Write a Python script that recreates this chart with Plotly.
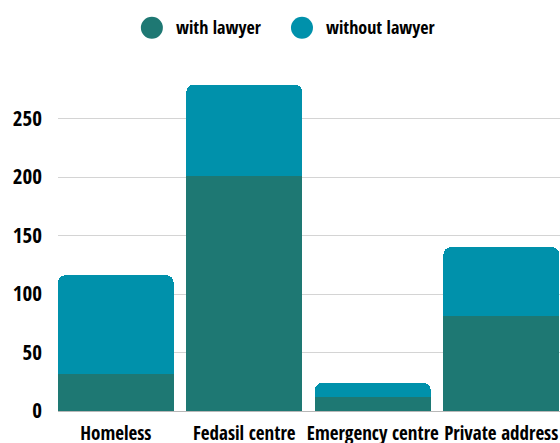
import plotly.graph_objects as go

# Where people were living, split by legal representation
categories = ["Homeless", "Fedasil centre", "Emergency centre", "Private address"]
with_lawyer = [32, 201, 12, 81]
without_lawyer = [84, 78, 12, 59]
y_ticks = [0, 50, 100, 150, 200, 250]

series_names = ["with lawyer", "without lawyer"]
series_colors = ["#1e7873", "#0091ab"]

FONT = "Open Sans Condensed, Roboto Condensed, sans-serif"

fig = go.Figure()
for name, vals, col in zip(series_names, [with_lawyer, without_lawyer], series_colors):
    fig.add_trace(go.Bar(
        x=list(range(len(categories))),
        y=vals,
        name=name,
        marker=dict(color=col, line=dict(width=0)),
        showlegend=False,
        hoverinfo="y+name",
    ))

# Custom legend: round swatches with labels, centred above the plot
legend_items = [(0.187, 0.232), (0.486, 0.530)]  # (swatch x, label x) in paper units
for (sx, tx), name, col in zip(legend_items, series_names, series_colors):
    fig.add_shape(type="circle", xref="paper", yref="paper",
                  xsizemode="pixel", ysizemode="pixel",
                  xanchor=sx, yanchor=1.092,
                  x0=-11, x1=11, y0=-11, y1=11,
                  fillcolor=col, line=dict(width=0))
    fig.add_annotation(x=tx, y=1.094, xref="paper", yref="paper",
                       text=name, showarrow=False, xanchor="left", yanchor="middle",
                       font=dict(family=FONT, size=18, color="#000", weight="bold"))

fig.update_layout(
    width=560, height=443,
    margin=dict(l=58, r=0, t=60, b=32),
    paper_bgcolor="white", plot_bgcolor="white",
    barmode="stack", bargap=0.1, barcornerradius=7,
    font=dict(family=FONT, size=20, color="#000", weight="bold"),
    showlegend=False,
)
fig.update_xaxes(
    range=[-0.45, 3.457], automargin=False,
    tickmode="array", tickvals=list(range(len(categories))), ticktext=categories,
    tickangle=0, showgrid=False, showline=False, ticks="", ticklabelstandoff=9,
    ticklabeloverflow="allow",
    tickfont=dict(family=FONT, size=19, color="#000", weight="bold"),
)
fig.update_yaxes(
    range=[0, 300], automargin=False,
    tickmode="array", tickvals=y_ticks,
    showgrid=True, gridcolor="#d4d4d4", gridwidth=1,
    zeroline=True, zerolinecolor="#b8b8b8", zerolinewidth=1,
    showline=False, ticks="", ticklabelstandoff=15,
    tickfont=dict(family=FONT, size=21, color="#000", weight="bold"),
)

fig.write_html("out.html")
